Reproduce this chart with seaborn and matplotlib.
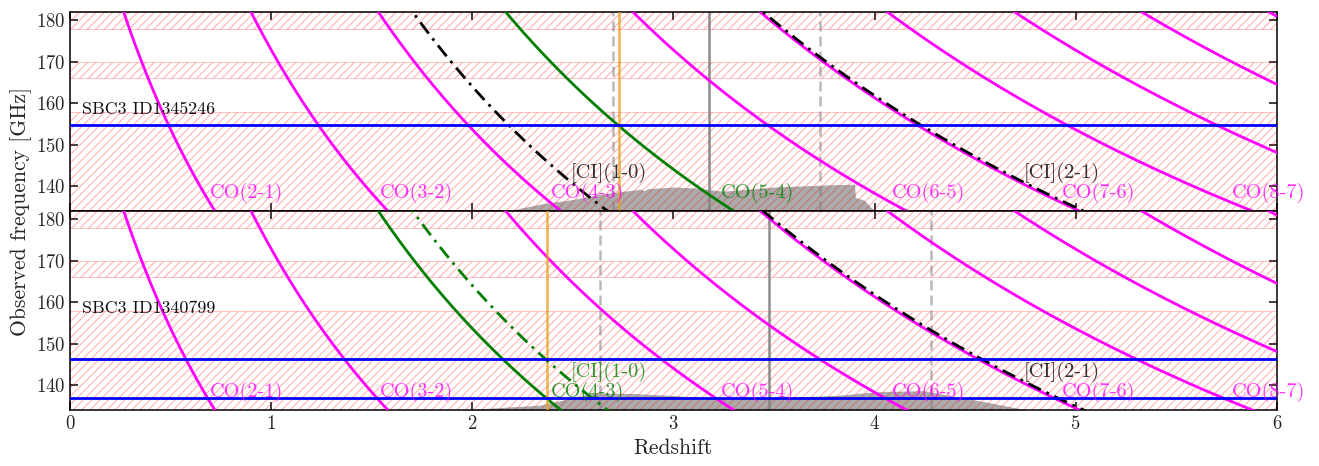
"""Redshift solutions for two SBC3 sources: observed line frequency vs redshift."""

import matplotlib
matplotlib.use("Agg")
import matplotlib.pyplot as plt
import numpy as np
import pandas as pd
import seaborn as sns


# rest frequencies [GHz]
CO_NAMES = ["CO(2-1)", "CO(3-2)", "CO(4-3)", "CO(5-4)", "CO(6-5)",
            "CO(7-6)", "CO(8-7)", "CO(9-8)", "CO(10-9)", "CO(11-10)"]
CO_REST = [230.538, 345.796, 461.041, 576.268, 691.473,
           806.652, 921.800, 1036.912, 1151.985, 1267.014]
CI_NAMES = ["[CI](1-0)", "[CI](2-1)"]
CI_REST = [492.161, 809.342]

# bands not covered by the spectral setup [GHz]
BAND_LO = [134.0, 166.0, 178.0]
BAND_HI = [158.0, 170.0, 182.0]

SOURCES = ["SBC3 ID1345246", "SBC3 ID1340799"]
DETECTED_GHZ = [[154.7], [146.3, 136.9]]
MATCHED_LINES = [["CO(5-4)"], ["CO(4-3)", "[CI](1-0)"]]
SPEC_Z = [2.729, 2.371]
PHOT_Z = [3.178, 3.476]
PHOT_Z_LO = [2.698, 2.636]
PHOT_Z_HI = [3.728, 4.279]

# photo-z probability profile, drawn on the frequency axis
PZ_TOP_Z = [2.17, 2.34, 2.50, 2.64, 2.84, 2.855, 2.87, 3.00, 3.10, 3.25,
            3.35, 3.50, 3.75, 3.90, 3.905, 3.95, 3.99, 4.01]
PZ_TOP_GHZ = [134.0, 135.7, 136.8, 138.1, 139.3, 138.9, 139.4, 139.8, 139.6, 138.8,
              139.2, 139.8, 140.3, 140.5, 137.3, 136.6, 134.5, 134.0]
PZ_BOT_Z = [1.95, 2.10, 2.34, 2.50, 2.60, 2.80, 3.00, 3.17, 3.50, 3.83,
            4.00, 4.24, 4.41, 4.58, 4.76]
PZ_BOT_GHZ = [134.0, 134.5, 135.2, 137.0, 138.1, 138.0, 137.5, 136.9, 136.9, 137.6,
              138.4, 138.7, 137.2, 135.7, 134.0]

Z_MIN, Z_MAX = 0.0, 6.0
NU_MIN, NU_MAX = 134.0, 182.0

sns.set_theme(style="ticks")
plt.rcParams.update(
    {
        "font.family": ["cmr10", "DejaVu Serif"],
        "mathtext.fontset": "cm",
        "axes.formatter.use_mathtext": True,
        "axes.unicode_minus": False,
        "xtick.direction": "in",
        "ytick.direction": "in",
        "xtick.top": True,
        "ytick.right": True,
        "xtick.major.size": 6,
        "ytick.major.size": 6,
        "xtick.labelsize": 13.5,
        "ytick.labelsize": 13.5,
        "axes.edgecolor": "black",
        "axes.linewidth": 1.1,
        "hatch.linewidth": 0.9,
    }
)

z_grid = np.linspace(Z_MIN, Z_MAX, 600)
pz_profiles = [(PZ_TOP_Z, PZ_TOP_GHZ), (PZ_BOT_Z, PZ_BOT_GHZ)]

fig, axes = plt.subplots(2, 1, figsize=(13.19, 4.66), dpi=100, sharex=True)
fig.subplots_adjust(left=0.0531, right=0.968, top=0.974, bottom=0.12, hspace=0)

for i, ax in enumerate(axes):
    # photo-z profile
    pz, pnu = pz_profiles[i]
    ax.fill_between(pz, NU_MIN, pnu, color="#ababab", linewidth=0, zorder=1)

    # excluded bands
    for lo, hi in zip(BAND_LO, BAND_HI):
        ax.fill_between([Z_MIN, Z_MAX], lo, hi, facecolor="none", edgecolor="red",
                        hatch="////", alpha=0.27, linewidth=0.6, zorder=1.5)

    # CO ladder
    for name, rest in zip(CO_NAMES, CO_REST):
        col = "green" if name in MATCHED_LINES[i] else "magenta"
        df = pd.DataFrame({"z": z_grid, "nu": rest / (1 + z_grid)})
        sns.lineplot(data=df, x="z", y="nu", ax=ax, color=col, linewidth=2.0, zorder=3)
        x_lab = rest / 136.0 - 1
        if x_lab < Z_MAX:
            ax.text(x_lab, 136.0, name, color=col, alpha=0.8, fontsize=14.7,
                    ha="left", va="bottom", zorder=5)

    # atomic carbon
    for name, rest in zip(CI_NAMES, CI_REST):
        col = "green" if name in MATCHED_LINES[i] else "black"
        df = pd.DataFrame({"z": z_grid, "nu": rest / (1 + z_grid)})
        sns.lineplot(data=df, x="z", y="nu", ax=ax, color=col, linewidth=2.0,
                     dashes=False, zorder=4)
        ax.lines[-1].set_linestyle((0, (5, 2.2, 1, 2.2)))
        ax.text(rest / 141.0 - 1, 140.7, name, color=col, alpha=0.8, fontsize=14.7,
                ha="left", va="bottom", zorder=5)

    # detected lines
    for nu in DETECTED_GHZ[i]:
        ax.axhline(nu, color="blue", linewidth=2.0, zorder=4)

    ax.axvline(SPEC_Z[i], color="#e8a020", alpha=0.8, linewidth=1.8, zorder=3)
    ax.axvline(PHOT_Z[i], color="gray", alpha=0.9, linewidth=1.8, zorder=2)
    for zz in (PHOT_Z_LO[i], PHOT_Z_HI[i]):
        ax.axvline(zz, color="gray", alpha=0.55, linewidth=1.8, linestyle=(0, (4, 2)), zorder=2)

    ax.text(0.06, 156.6, SOURCES[i], fontsize=12.9, ha="left", va="bottom", color="#111111")

    ax.set_xlim(Z_MIN, Z_MAX)
    ax.set_ylim(NU_MIN, NU_MAX)
    ax.set_yticks([140, 150, 160, 170, 180])
    ax.set_xticks([0, 1, 2, 3, 4, 5, 6])
    ax.set_ylabel("")
    ax.set_xlabel("")

axes[1].set_xlabel("Redshift", fontsize=15.5, labelpad=4)
fig.text(0.016, 0.547, "Observed frequency [GHz]", rotation=90, fontsize=15.6,
         ha="center", va="center")

fig.savefig("out.png", dpi=100)
